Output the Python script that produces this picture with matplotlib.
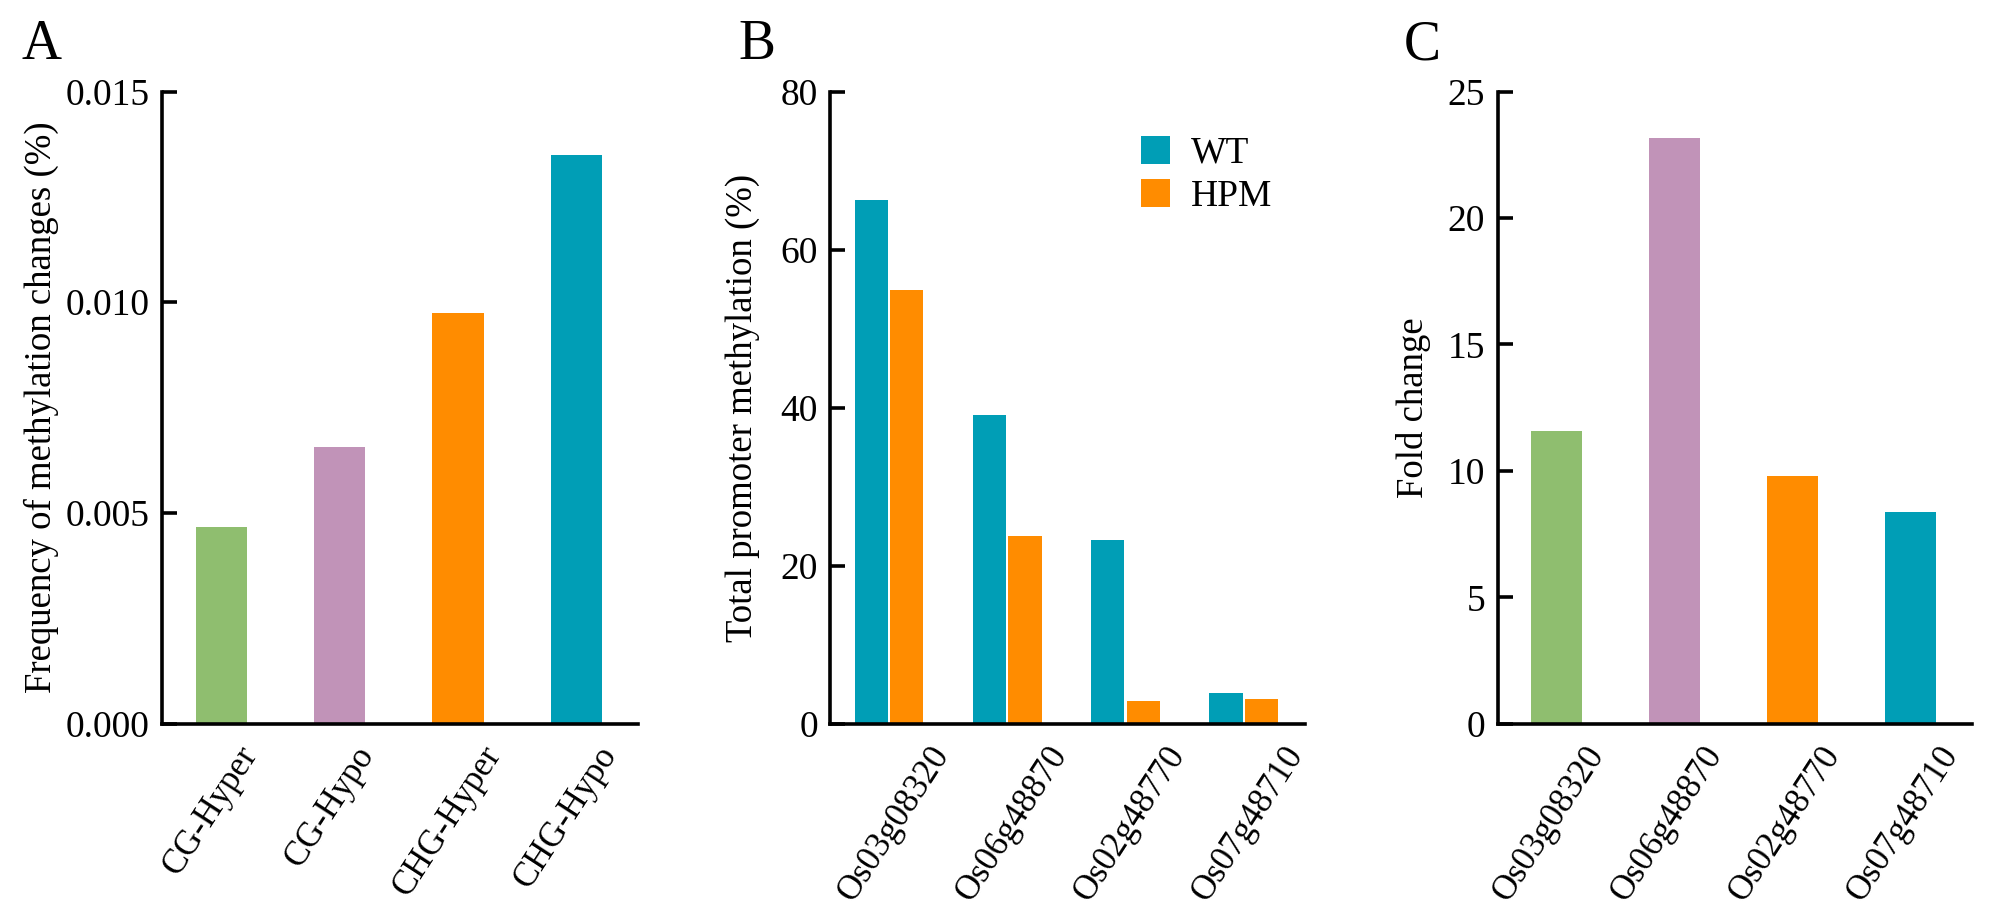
import matplotlib
matplotlib.use("Agg")
import matplotlib.pyplot as plt
import matplotlib.transforms as mtransforms
import numpy as np

plt.rcParams['font.family'] = ['Liberation Serif', 'DejaVu Serif']

# ---- data ----
a_categories = ["CG-Hyper", "CG-Hypo", "CHG-Hyper", "CHG-Hypo"]
a_values = [0.00467, 0.00656, 0.00974, 0.01350]

b_genes = ["Os03g08320", "Os06g48870", "Os02g48770", "Os07g48710"]
b_wt = [66.3, 39.1, 23.3, 3.9]
b_hpm = [54.9, 23.7, 2.9, 3.1]
b_series = ["WT", "HPM"]

c_genes = ["Os03g08320", "Os06g48870", "Os02g48770", "Os07g48710"]
c_values = [11.57, 23.18, 9.78, 8.36]

a_yticks = [0.000, 0.005, 0.010, 0.015]
a_yticklabels = ["0.000", "0.005", "0.010", "0.015"]
b_yticks = [0, 20, 40, 60, 80]
c_yticks = [0, 5, 10, 15, 20, 25]

GREEN = "#8fbe6f"
PINK = "#c193b8"
ORANGE = "#ff8c00"
TEAL = "#009eb6"
four_colors = [GREEN, PINK, ORANGE, TEAL]

TICK_FS = 27
LABEL_FS = 26.5
XT_FS = 25
ROT = 57
LW = 2.6

fig = plt.figure(figsize=(19.92, 9.15), dpi=100)
W, H = 1992, 915
bottom_px, top_px = 723.7, 91.5
def add_ax(left_px, right_px):
    return fig.add_axes([left_px / W, 1 - bottom_px / H, (right_px - left_px) / W, (bottom_px - top_px) / H])

axA = add_ax(162, 638)
axB = add_ax(830.3, 1305)
axC = add_ax(1497.7, 1972)

def style(ax):
    for s in ["top", "right"]:
        ax.spines[s].set_visible(False)
    for s in ["left", "bottom"]:
        ax.spines[s].set_linewidth(LW)
        ax.spines[s].set_color("black")
    ax.tick_params(axis="y", direction="in", length=11, width=LW, labelsize=TICK_FS, pad=9)
    ax.tick_params(axis="x", length=0, labelsize=XT_FS, pad=12)
    ax.set_xlim(-0.5, 3.52)

def set_xlabels(ax, labels, dx_px):
    ax.set_xticks(np.arange(len(labels)))
    texts = ax.set_xticklabels(labels, rotation=ROT, ha="center", va="top")
    shift = mtransforms.ScaledTranslation(dx_px / 100.0, 0, fig.dpi_scale_trans)
    for t in texts:
        t.set_transform(t.get_transform() + shift)

x = np.arange(4)

# Panel A
axA.bar(x, a_values, width=0.433, color=four_colors)
axA.set_ylim(0, 0.015)
axA.set_yticks(a_yticks)
axA.set_yticklabels(a_yticklabels)
style(axA)
set_xlabels(axA, a_categories, -10)
axA.set_ylabel("Frequency of methylation changes (%)", fontsize=LABEL_FS)
axA.yaxis.set_label_coords(-0.216, 0.5)

# Panel B
off = 0.149
axB.bar(x - off, b_wt, width=0.28, color=TEAL, label=b_series[0])
axB.bar(x + off, b_hpm, width=0.28, color=ORANGE, label=b_series[1])
axB.set_ylim(0, 80)
axB.set_yticks(b_yticks)
style(axB)
set_xlabels(axB, b_genes, 5)
axB.set_ylabel("Total promoter methylation (%)", fontsize=LABEL_FS)
axB.yaxis.set_label_coords(-0.148, 0.5)
axB.legend(loc="upper left", bbox_to_anchor=(0.655, 0.93), frameon=False, fontsize=TICK_FS,
           handlelength=0.78, handleheight=0.78, handletextpad=0.55, labelspacing=0.22, borderpad=0,
           borderaxespad=0)

# Panel C
axC.bar(x, c_values, width=0.433, color=four_colors)
axC.set_ylim(0, 25)
axC.set_yticks(c_yticks)
style(axC)
set_xlabels(axC, c_genes, -8)
axC.set_ylabel("Fold change", fontsize=LABEL_FS)
axC.yaxis.set_label_coords(-0.141, 0.5)

for lab, xp in [("A", 21.7), ("B", 738), ("C", 1404)]:
    fig.text(xp / W, 1 - 59.3 / H, lab, fontsize=40, ha="left", va="baseline")

fig.savefig("out.png", dpi=100)
